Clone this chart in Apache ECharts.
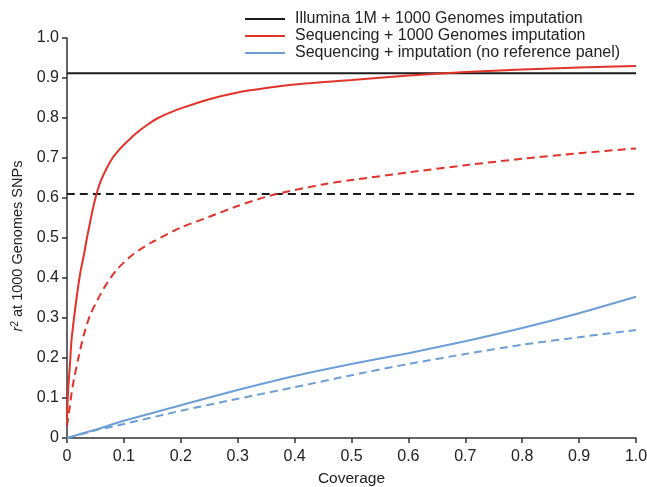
<!DOCTYPE html>
<html>
<head>
<meta charset="utf-8">
<script src="https://cdn.jsdelivr.net/npm/echarts@6/dist/echarts.min.js"></script>
<style>
  html, body { margin: 0; padding: 0; background: #fff; }
  #chart { width: 647px; height: 487px; }
</style>
</head>
<body>
<div id="chart"></div>
<script>
// Imputation accuracy (r^2) against sequencing coverage
const coverageTicks = ['0', '0.1', '0.2', '0.3', '0.4', '0.5', '0.6', '0.7', '0.8', '0.9', '1.0'];

// Sequencing + 1000 Genomes imputation, solid (x = coverage, y = r^2)
const seqRefSolidX = [0, 0.002, 0.005, 0.008, 0.015, 0.023, 0.03, 0.035, 0.04, 0.045, 0.05, 0.055, 0.06, 0.07, 0.08, 0.09, 0.1, 0.12, 0.14, 0.16, 0.18, 0.2, 0.25, 0.3, 0.35, 0.4, 0.5, 0.6, 0.7, 0.8, 0.9, 1.0];
const seqRefSolidY = [0.05, 0.12, 0.18, 0.245, 0.33, 0.41, 0.46, 0.50, 0.535, 0.57, 0.60, 0.625, 0.645, 0.675, 0.70, 0.718, 0.733, 0.76, 0.782, 0.80, 0.813, 0.824, 0.847, 0.864, 0.875, 0.884, 0.895, 0.906, 0.915, 0.921, 0.926, 0.93];

// Sequencing + 1000 Genomes imputation, dashed
const seqRefDashX = [0, 0.005, 0.01, 0.02, 0.03, 0.04, 0.05, 0.065, 0.087, 0.117, 0.15, 0.2, 0.25, 0.3, 0.36, 0.45, 0.5, 0.6, 0.7, 0.8, 0.9, 1.0];
const seqRefDashY = [0.03, 0.08, 0.13, 0.2, 0.26, 0.305, 0.335, 0.375, 0.42, 0.46, 0.49, 0.526, 0.553, 0.58, 0.607, 0.634, 0.645, 0.664, 0.682, 0.698, 0.712, 0.724];

// Sequencing + imputation without a reference panel
const seqNoRefX = [0, 0.05, 0.1, 0.2, 0.3, 0.4, 0.5, 0.6, 0.7, 0.8, 0.9, 1.0];
const seqNoRefSolidY = [0, 0.021, 0.043, 0.082, 0.12, 0.155, 0.185, 0.212, 0.242, 0.275, 0.312, 0.353];
const seqNoRefDashY = [0, 0.019, 0.035, 0.068, 0.098, 0.127, 0.157, 0.185, 0.21, 0.233, 0.252, 0.27];

// Illumina 1M + 1000 Genomes imputation (constant levels)
const arrayX = [0, 1];
const arraySolidY = [0.912, 0.912];
const arrayDashY = [0.61, 0.61];

const legendNames = [
  'Illumina 1M + 1000 Genomes imputation',
  'Sequencing + 1000 Genomes imputation',
  'Sequencing + imputation (no reference panel)'
];

const BLACK = '#1c1c1c';
const RED = '#e2332b';
const BLUE = '#6d9fd6';
const TEXT = '#222222';
const FONT = '"Liberation Sans", Arial, Helvetica, sans-serif';

function pairs(xs, ys) { return xs.map((x, i) => [x, ys[i]]); }

function lineSeries(name, xs, ys, color, dashed, z) {
  return {
    name: name,
    type: 'line',
    data: pairs(xs, ys),
    showSymbol: false,
    symbol: 'none',
    smooth: 0.25,
    z: z,
    color: color,
    lineStyle: { color: color, width: 2, type: dashed ? [8, 5] : 'solid' },
    emphasis: { disabled: true },
    silent: true
  };
}

const chart = echarts.init(document.getElementById('chart'), null, { renderer: 'canvas' });

chart.setOption({
  animation: false,
  backgroundColor: '#ffffff',
  textStyle: { fontFamily: FONT },
  grid: { left: 67, right: 11, top: 38, bottom: 49, containLabel: false, outerBoundsMode: 'none' },
  legend: {
    data: legendNames,
    orient: 'vertical',
    left: 240,
    top: 6,
    itemWidth: 40,
    itemHeight: 2,
    itemGap: 1,
    icon: 'rect',
    textStyle: { fontFamily: FONT, fontSize: 16, lineHeight: 16, color: TEXT, padding: [0, 0, 0, 5] },
    selectedMode: false
  },
  xAxis: {
    type: 'value',
    min: 0,
    max: 1,
    interval: 0.1,
    name: 'Coverage',
    nameLocation: 'middle',
    nameGap: 33,
    nameTextStyle: { fontFamily: FONT, fontSize: 15.5, color: TEXT },
    axisLine: { onZero: false, lineStyle: { color: '#333', width: 1.5 } },
    axisTick: { show: true, length: 5, inside: false, lineStyle: { color: '#333', width: 1.5 } },
    axisLabel: {
      fontFamily: FONT, fontSize: 16, color: TEXT, margin: 11,
      formatter: (v) => coverageTicks[Math.round(v * 10)]
    },
    splitLine: { show: false }
  },
  yAxis: {
    type: 'value',
    min: 0,
    max: 1,
    interval: 0.1,
    name: '{it|r}{sup|2} at 1000 Genomes SNPs',
    nameLocation: 'middle',
    nameGap: 39,
    nameRotate: 90,
    nameTextStyle: {
      fontFamily: FONT, fontSize: 14.5, color: TEXT, padding: [0, 16, 0, 0],
      rich: {
        it: { fontFamily: FONT, fontSize: 14.5, fontStyle: 'italic', color: TEXT },
        sup: { fontFamily: FONT, fontSize: 10, color: TEXT, verticalAlign: 'top', padding: [0, 0, 6, 0] }
      }
    },
    axisLine: { show: true, onZero: false, lineStyle: { color: '#333', width: 1.5 } },
    axisTick: { show: true, length: 5, inside: false, lineStyle: { color: '#333', width: 1.5 } },
    axisLabel: {
      fontFamily: FONT, fontSize: 16, color: TEXT, margin: 8,
      formatter: (v) => v === 0 ? '0' : v.toFixed(1)
    },
    splitLine: { show: false }
  },
  series: [
    lineSeries(legendNames[0], arrayX, arraySolidY, BLACK, false, 3),
    lineSeries('Illumina 1M (dashed)', arrayX, arrayDashY, BLACK, true, 3),
    lineSeries(legendNames[1], seqRefSolidX, seqRefSolidY, RED, false, 4),
    lineSeries('Sequencing + 1000 Genomes (dashed)', seqRefDashX, seqRefDashY, RED, true, 4),
    lineSeries(legendNames[2], seqNoRefX, seqNoRefSolidY, BLUE, false, 2),
    lineSeries('Sequencing, no panel (dashed)', seqNoRefX, seqNoRefDashY, BLUE, true, 2)
  ]
});
</script>
</body>
</html>
